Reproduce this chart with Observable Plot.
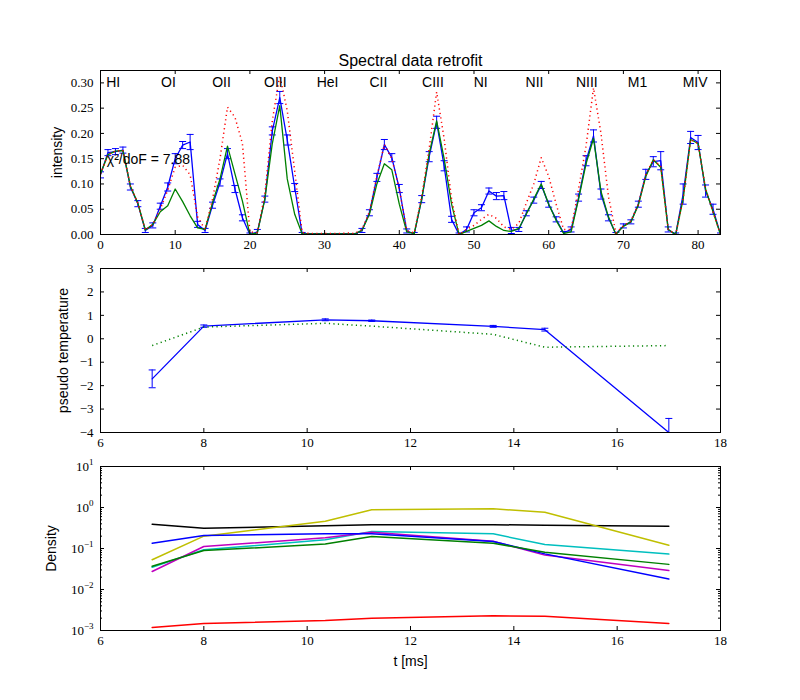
<!DOCTYPE html>
<html><head><meta charset="utf-8">
<script src="https://cdn.jsdelivr.net/npm/d3@7"></script>
<script src="https://cdn.jsdelivr.net/npm/@observablehq/plot@0.6"></script>
<style>
body{margin:0;background:#fff;}
#fig{position:relative;width:800px;height:700px;background:#fff;overflow:hidden;}
#fig svg{position:absolute;left:0;overflow:visible;}
</style></head><body><div id="fig"></div>
<script>
// ---------- Panel 1: spectral data ----------
const channel = d3.range(0, 84);
const measured = [0.118,0.162,0.164,0.167,0.094,0.061,0.008,0.018,0.056,0.094,
  0.150,0.177,0.183,0.020,0.008,0.058,0.103,0.160,0.090,0.033,
  0.000,0.005,0.070,0.205,0.271,0.187,0.093,0.001,0.001,0.001,
  0.001,0.001,0.001,0.001,0.001,0.008,0.043,0.113,0.178,0.152,
  0.091,0.007,0.001,0.070,0.154,0.222,0.136,0.030,0.000,0.010,
  0.043,0.053,0.086,0.076,0.077,0.008,0.010,0.042,0.068,0.098,
  0.060,0.030,0.003,0.010,0.073,0.146,0.195,0.080,0.033,0.001,
  0.017,0.025,0.060,0.119,0.144,0.146,0.010,0.000,0.080,0.192,
  0.182,0.086,0.050,0.000];
const measuredErr = [0.006,0.006,0.006,0.006,0.006,0.006,0.004,0.005,0.006,0.008,
  0.010,0.007,0.015,0.006,0.004,0.006,0.007,0.010,0.007,0.006,
  0.003,0.005,0.006,0.008,0.012,0.010,0.008,0.003,0.001,0.001,
  0.001,0.001,0.001,0.001,0.001,0.004,0.006,0.008,0.010,0.008,
  0.008,0.004,0.003,0.007,0.010,0.012,0.010,0.006,0.003,0.005,
  0.006,0.006,0.006,0.007,0.008,0.006,0.004,0.005,0.006,0.007,
  0.006,0.005,0.003,0.005,0.007,0.010,0.012,0.010,0.006,0.003,
  0.004,0.004,0.006,0.010,0.010,0.018,0.005,0.003,0.020,0.012,
  0.014,0.012,0.010,0.003];
const fitGreen = [0.120,0.158,0.165,0.166,0.096,0.062,0.009,0.020,0.045,0.057,
  0.090,0.065,0.037,0.013,0.010,0.063,0.110,0.175,0.120,0.066,
  0.000,0.003,0.070,0.180,0.255,0.110,0.040,0.001,0.001,0.001,
  0.001,0.001,0.001,0.001,0.001,0.008,0.040,0.100,0.140,0.128,
  0.060,0.005,0.002,0.070,0.160,0.225,0.150,0.060,0.000,0.006,
  0.012,0.018,0.027,0.016,0.008,0.006,0.012,0.040,0.070,0.100,
  0.060,0.028,0.002,0.005,0.070,0.140,0.190,0.085,0.035,0.000,
  0.016,0.025,0.058,0.115,0.148,0.133,0.010,0.000,0.070,0.188,
  0.180,0.090,0.045,0.000];
const fitRed = [0.120,0.158,0.165,0.166,0.096,0.062,0.009,0.020,0.050,0.088,
  0.133,0.137,0.118,0.035,0.010,0.070,0.150,0.252,0.232,0.180,
  0.005,0.004,0.080,0.225,0.315,0.245,0.125,0.004,0.002,0.002,
  0.002,0.002,0.002,0.003,0.002,0.010,0.045,0.115,0.178,0.150,
  0.090,0.008,0.003,0.075,0.170,0.282,0.190,0.070,0.000,0.010,
  0.018,0.030,0.040,0.032,0.015,0.010,0.022,0.062,0.100,0.152,
  0.115,0.060,0.010,0.010,0.090,0.175,0.290,0.200,0.075,0.003,
  0.017,0.027,0.060,0.118,0.148,0.135,0.010,0.000,0.070,0.188,
  0.180,0.090,0.045,0.000];
const lineNames = ["HI","OI","OII","OIII","HeI","CII","CIII","NI","NII","NIII","M1","MIV"];
const linePos = [1.7, 9.1, 16.2, 23.4, 30.4, 37.2, 44.5, 50.9, 58.1, 65.1, 71.9, 79.6];
const lineLabelY = 0.30;
const chiText = "\u03C7\u00B2/doF = 7.88";
const chiPos = [0.85, 0.149];
const xTicksA = [0,10,20,30,40,50,60,70,80];
const yTicksA = [0,0.05,0.10,0.15,0.20,0.25,0.30];

// ---------- Panel 2: pseudo temperature ----------
const times = [7, 8, 10.35, 11.25, 13.6, 14.6, 17];
const pseudoT = [-1.71, 0.54, 0.81, 0.77, 0.53, 0.39, -4.0];
const pseudoTErr = [0.38, 0.05, 0.04, 0.03, 0.04, 0.06, 0.6];
const pseudoTModel = [-0.29, 0.50, 0.66, 0.54, 0.19, -0.36, -0.29];
const tTicks = [6,8,10,12,14,16,18];
const yTicksB = [-4,-3,-2,-1,0,1,2,3];

// ---------- Panel 3: densities ----------
const densBlack   = [0.39, 0.31, 0.36, 0.38, 0.38, 0.37, 0.35];
const densYellow  = [0.053, 0.20, 0.46, 0.88, 0.93, 0.77, 0.12];
const densBlue    = [0.135, 0.207, 0.228, 0.228, 0.148, 0.074, 0.018];
const densCyan    = [0.035, 0.093, 0.163, 0.26, 0.228, 0.125, 0.073];
const densMagenta = [0.0275, 0.112, 0.182, 0.25, 0.151, 0.069, 0.029];
const densGreen   = [0.037, 0.089, 0.128, 0.196, 0.135, 0.081, 0.041];
const densRed     = [0.00118, 0.00148, 0.00175, 0.0020, 0.00228, 0.00224, 0.00148];
const decades = [1e-3, 1e-2, 1e-1, 1, 10];

// ---------- layout / style ----------
const W = 800, ML = 100, MR = 80, FW = W - ML - MR, FH = 164;
const serif = "'Liberation Serif','DejaVu Serif',serif";
const sans = "'Liberation Sans',Arial,sans-serif";
const BLUE = "#0000ff", GREEN = "#008000", RED = "#ff0000";
const cap = {draw(ctx){ ctx.moveTo(-3.5, 0); ctx.lineTo(3.5, 0); }};
const minusFmt = d => (d < 0 ? "\u2212" + Math.abs(d) : String(d));

function frameTicks(xs, ys, len) {
  return [
    Plot.tickX(xs, {x: d => d, insetTop: FH - len, stroke: "black"}),
    Plot.tickX(xs, {x: d => d, insetBottom: FH - len, stroke: "black"}),
    Plot.tickY(ys, {y: d => d, insetRight: FW - len, stroke: "black"}),
    Plot.tickY(ys, {y: d => d, insetLeft: FW - len, stroke: "black"})
  ];
}
function errorMarks(data, x, y, e) {
  return [
    Plot.ruleX(data, {x, y1: d => d[y] - d[e], y2: d => d[y] + d[e], stroke: BLUE, strokeWidth: 1, clip: true}),
    Plot.dot(data, {x, y: d => d[y] - d[e], symbol: cap, stroke: BLUE, fill: "none", strokeWidth: 1, clip: true}),
    Plot.dot(data, {x, y: d => d[y] + d[e], symbol: cap, stroke: BLUE, fill: "none", strokeWidth: 1, clip: true})
  ];
}
function yLabel(text, dx) {
  return Plot.text([text], {frameAnchor: "left", dx, rotate: -90, textAnchor: "middle", lineAnchor: "middle", fontFamily: sans, fontSize: 14, fill: "black"});
}
const base = {width: W, marginLeft: ML, marginRight: MR, style: {color: "black", background: "transparent", overflow: "visible"}};
const dotted = {strokeWidth: 1.5, strokeDasharray: "1.2,3.3", strokeLinecap: "butt"};

const fig = document.getElementById("fig");

// Panel A
const topData = channel.map((c, i) => ({c, m: measured[i], e: measuredErr[i], g: fitGreen[i], r: fitRed[i]}));
const labelData = lineNames.map((n, i) => ({n, x: linePos[i], y: lineLabelY}));
const plotA = Plot.plot({
  ...base, height: 260, marginTop: 70, marginBottom: 26,
  x: {domain: [0, 83], axis: null}, y: {domain: [0, 0.3245], axis: null},
  marks: [
    ...errorMarks(topData, "c", "m", "e"),
    Plot.line(topData, {x: "c", y: "m", stroke: BLUE, strokeWidth: 1.3, clip: true}),
    Plot.line(topData, {x: "c", y: "g", stroke: GREEN, strokeWidth: 1.3, clip: true}),
    Plot.line(topData, {x: "c", y: "r", stroke: RED, ...dotted, clip: true}),
    Plot.text(labelData, {x: "x", y: "y", text: "n", fontFamily: sans, fontSize: 14, fill: "black"}),
    Plot.text([chiText], {x: () => chiPos[0], y: () => chiPos[1], textAnchor: "start", fontFamily: sans, fontSize: 14, fill: "black"}),
    Plot.text(["Spectral data retrofit"], {frameAnchor: "top", dy: -10, lineAnchor: "middle", textAnchor: "middle", fontFamily: sans, fontSize: 16, fill: "black"}),
    yLabel("intensity", -43),
    ...frameTicks(xTicksA, yTicksA, 4),
    Plot.axisX({ticks: xTicksA, tickSize: 0, tickPadding: 5, fontFamily: serif, fontSize: 13, label: null, tickFormat: d => String(d)}),
    Plot.axisY({ticks: yTicksA, tickSize: 0, tickPadding: 7, fontFamily: serif, fontSize: 13, label: null, tickFormat: d3.format(".2f")}),
    Plot.frame({stroke: "black", strokeWidth: 1})
  ]
});
plotA.style.top = "0px";
fig.appendChild(plotA);

// Panel B
const midData = times.map((t, i) => ({t, v: pseudoT[i], e: pseudoTErr[i], m: pseudoTModel[i]}));
const plotB = Plot.plot({
  ...base, height: 200, marginTop: 10, marginBottom: 26,
  x: {domain: [6, 18], axis: null}, y: {domain: [-4, 3], axis: null},
  marks: [
    ...errorMarks(midData, "t", "v", "e"),
    Plot.line(midData, {x: "t", y: "v", stroke: BLUE, strokeWidth: 1.3, clip: true}),
    Plot.line(midData, {x: "t", y: "m", stroke: GREEN, ...dotted, clip: true}),
    yLabel("pseudo temperature", -37),
    ...frameTicks(tTicks, yTicksB, 4),
    Plot.axisX({ticks: tTicks, tickSize: 0, tickPadding: 5, fontFamily: serif, fontSize: 13, label: null, tickFormat: d => String(d)}),
    Plot.axisY({ticks: yTicksB, tickSize: 0, tickPadding: 7, fontFamily: serif, fontSize: 13, label: null, tickFormat: minusFmt}),
    Plot.frame({stroke: "black", strokeWidth: 1})
  ]
});
plotB.style.top = "258px";
fig.appendChild(plotB);

// Panel C
const series = [
  {name: "k", color: "#000000", values: densBlack},
  {name: "y", color: "#bfbf00", values: densYellow},
  {name: "c", color: "#00bfbf", values: densCyan},
  {name: "m", color: "#bf00bf", values: densMagenta},
  {name: "b", color: BLUE, values: densBlue},
  {name: "g", color: GREEN, values: densGreen},
  {name: "r", color: RED, values: densRed}
];
const minor = [];
for (let k = -3; k < 1; k++) for (let m = 2; m <= 9; m++) minor.push(m * Math.pow(10, k));
const plotC = Plot.plot({
  ...base, height: 244, marginTop: 10, marginBottom: 70,
  x: {domain: [6, 18], axis: null}, y: {type: "log", domain: [1e-3, 10], axis: null},
  marks: [
    ...series.map(s => Plot.line(times.map((t, i) => ({t, v: s.values[i]})), {x: "t", y: "v", stroke: s.color, strokeWidth: 1.5, clip: true})),
    yLabel("Density", -49),
    Plot.text(["t [ms]"], {frameAnchor: "bottom", dy: 31, lineAnchor: "middle", textAnchor: "middle", fontFamily: sans, fontSize: 14, fill: "black"}),
    ...frameTicks(tTicks, decades, 4),
    Plot.tickY(minor, {y: d => d, insetRight: FW - 2, stroke: "black"}),
    Plot.tickY(minor, {y: d => d, insetLeft: FW - 2, stroke: "black"}),
    Plot.axisX({ticks: tTicks, tickSize: 0, tickPadding: 5, fontFamily: serif, fontSize: 13, label: null, tickFormat: d => String(d)}),
    Plot.text(decades, {y: d => d, frameAnchor: "left", dx: -7, textAnchor: "end", lineAnchor: "middle", text: d => String(Math.round(Math.log10(d))), className: "decade", fontFamily: serif, fontSize: 13, fill: "black"}),
    Plot.frame({stroke: "black", strokeWidth: 1})
  ]
});
plotC.style.top = "456px";
fig.appendChild(plotC);
plotC.querySelectorAll(".decade text").forEach(t => {
  const e = t.textContent.replace("-", "\u2212");
  t.textContent = "";
  const ns = "http://www.w3.org/2000/svg";
  const a = document.createElementNS(ns, "tspan"); a.textContent = "10"; t.appendChild(a);
  const b = document.createElementNS(ns, "tspan"); b.textContent = e; b.setAttribute("dy", "-6"); b.setAttribute("font-size", "9"); t.appendChild(b);
});
</script></body></html>
